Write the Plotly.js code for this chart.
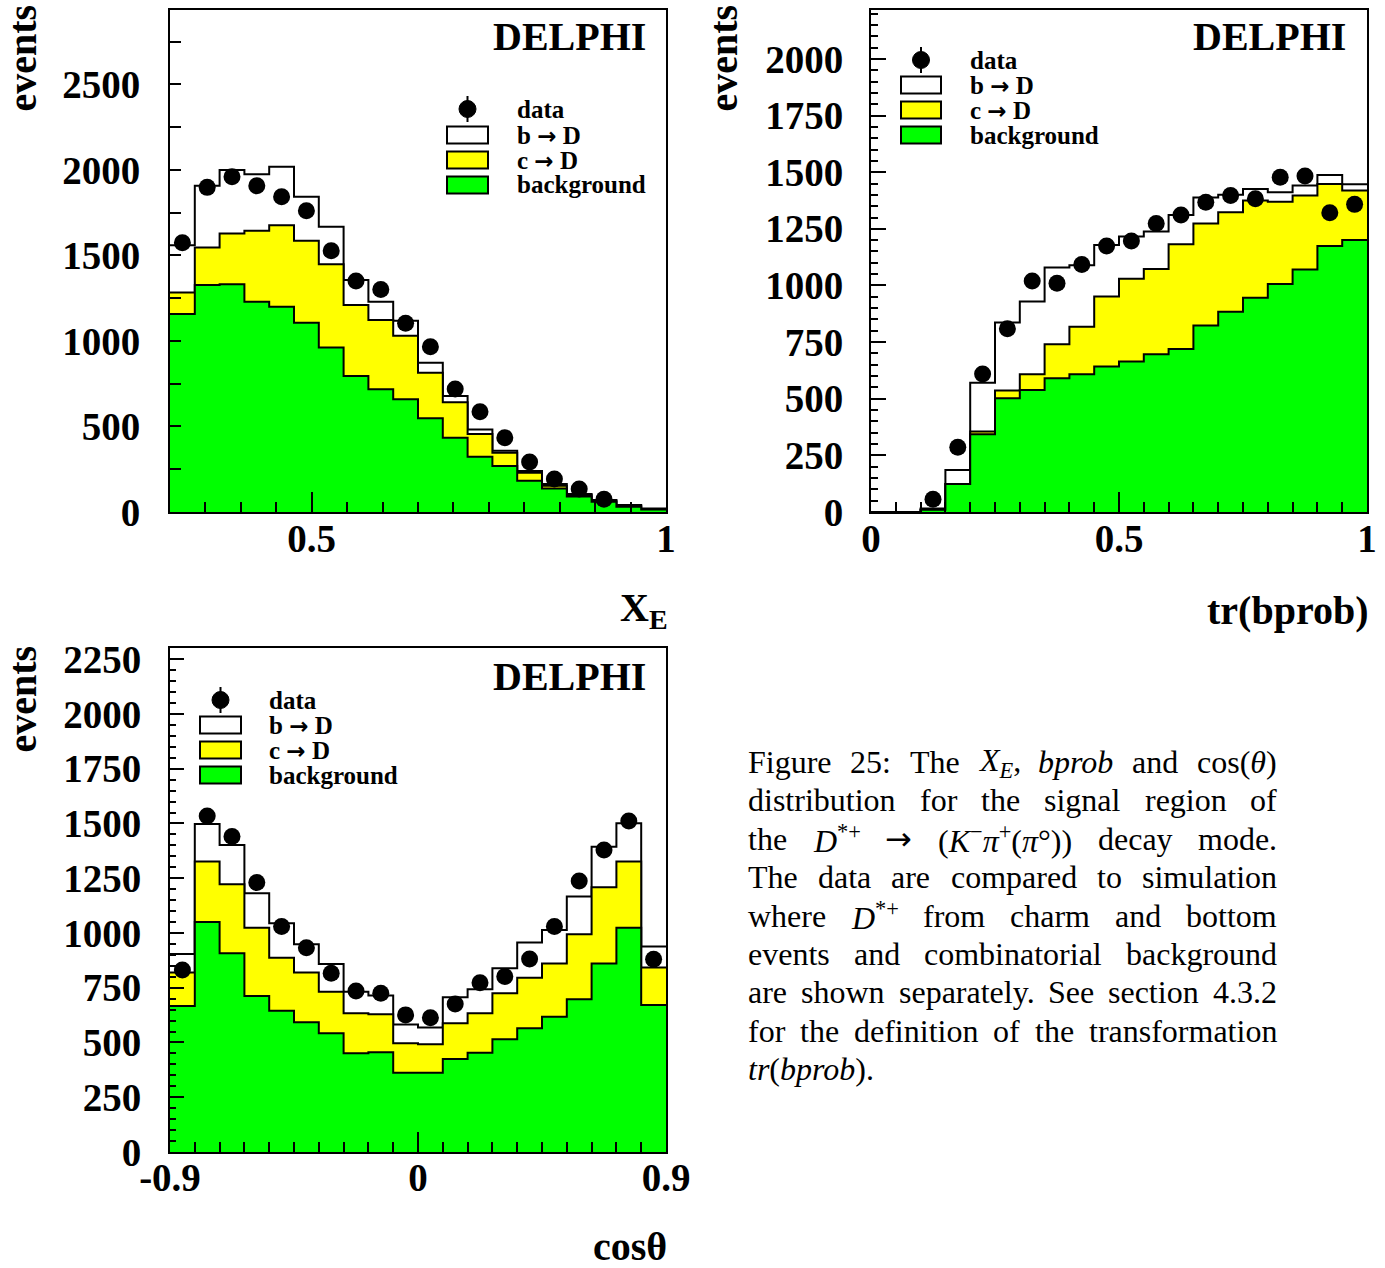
<!DOCTYPE html>
<html><head><meta charset="utf-8">
<script src="https://cdn.plot.ly/plotly-3.0.1.min.js"></script>
<style>html,body{margin:0;padding:0;background:#fff;}#chart{width:1385px;height:1268px;}</style>
</head><body><div id="chart"></div>
<script>
// ---------- DATA ----------
const XE_EDGES = [0.3,0.335,0.37,0.405,0.44,0.475,0.51,0.545,0.58,0.615,0.65,0.685,0.72,0.755,0.79,0.825,0.86,0.895,0.93,0.965,1.0];
const XE_BKG   = [1157,1327,1331,1229,1200,1107,962,795,717,659,548,434,323,269,183,138,90,60,31,15];
const XE_CHARM = [127,220,298,415,477,479,487,415,405,372,266,207,133,78,47,16,9,6,6,3];
const XE_BOTTOM= [276,360,370,331,341,257,219,146,107,87,59,37,27,11,10,10,6,4,4,3];
const XE_DATA  = [1574,1898,1960,1907,1843,1761,1527,1350,1301,1103,966,719,586,434,292,193,134,74,null,null];

const BP_EDGES = [0,0.05,0.1,0.15,0.2,0.25,0.3,0.35,0.4,0.45,0.5,0.55,0.6,0.65,0.7,0.75,0.8,0.85,0.9,0.95,1.0];
const BP_BKG   = [0,0,10,124,343,502,539,590,608,642,664,696,720,823,884,946,1007,1071,1174,1201];
const BP_CHARM = [0,0,0,0,12,34,69,150,210,309,366,377,462,451,439,429,363,326,274,218];
const BP_BOTTOM= [0,0,6,61,216,300,321,339,271,228,186,165,129,114,77,51,41,44,40,28];
const BP_DATA  = [null,null,56,286,609,809,1020,1010,1093,1174,1196,1274,1311,1367,1397,1383,1478,1483,1321,1358];

const CT_EDGES = [-0.9,-0.81,-0.72,-0.63,-0.54,-0.45,-0.36,-0.27,-0.18,-0.09,0,0.09,0.18,0.27,0.36,0.45,0.54,0.63,0.72,0.81,0.9];
const CT_BKG   = [667,1050,907,712,645,592,542,451,455,362,362,425,453,515,565,618,697,861,1024,671];
const CT_CHARM = [152,276,315,312,242,227,190,182,174,135,130,163,180,210,231,243,297,348,302,171];
const CT_BOTTOM= [85,172,180,157,157,129,126,99,85,85,76,118,110,114,160,153,172,185,175,96];
const CT_DATA  = [831,1534,1440,1230,1029,933,816,735,725,626,613,676,773,801,881,1029,1237,1379,1511,880];

const ARROW = '<span style="font-family:\'DejaVu Sans\';font-size:23px">→</span>';
const CAP_ARROW = '<span style="font-family:\'DejaVu Sans\'">→</span>';
const LEGEND_LABELS = ['data', 'b ' + ARROW + ' D', 'c ' + ARROW + ' D', 'background'];
const TRACE_NAMES = ['data', 'b → D', 'c → D', 'background'];
const CT_TICKVALS = [-0.9,0,0.9];
const CT_TICKTEXT = ['-0.9','0','0.9'];

const CAPTION = [
 "Figure 25: The <i>X<sub>E</sub></i>, <i>bprob</i> and cos(<i>θ</i>)",
 "distribution for the signal region of",
 "the <i>D</i><sup>*+</sup> " + CAP_ARROW + " (<i>K</i><sup>−</sup><i>π</i><sup>+</sup>(<i>π</i>°)) decay mode.",
 "The data are compared to simulation",
 "where <i>D</i><sup>*+</sup> from charm and bottom",
 "events and combinatorial background",
 "are shown separately. See section 4.3.2",
 "for the definition of the transformation",
 "<i>tr</i>(<i>bprob</i>)."
];

// ---------- HELPERS ----------
const W = 1385, H = 1268;
const px = x => x / W, py = y => 1 - y / H;
const FONT = '"Liberation Serif", "Times New Roman", serif';
const BLACK = '#000', YEL = '#ffff00', GRN = '#00ff00';

function panel(edges, bg, c, b, data, xa, ya) {
  const n = bg.length;
  const yel = bg.map((v, i) => v + c[i]);
  const tot = yel.map((v, i) => v + b[i]);
  const step = v => v.concat([v[n - 1]]);
  const cen = edges.slice(0, n).map((e, i) => (e + edges[i + 1]) / 2);
  const base = {type: 'scatter', mode: 'lines', x: edges, xaxis: xa, yaxis: ya, fill: 'tozeroy',
                line: {shape: 'hv', color: BLACK, width: 2}, hoverinfo: 'skip'};
  return [
    Object.assign({}, base, {y: step(tot), fillcolor: '#ffffff', name: TRACE_NAMES[1]}),
    Object.assign({}, base, {y: step(yel), fillcolor: YEL, name: TRACE_NAMES[2]}),
    Object.assign({}, base, {y: step(bg), fillcolor: GRN, name: TRACE_NAMES[3]}),
    {type: 'scatter', mode: 'markers', x: cen, y: data, xaxis: xa, yaxis: ya, name: TRACE_NAMES[0],
     marker: {color: BLACK, size: 17}}
  ];
}

const traces = [].concat(
  panel(XE_EDGES, XE_BKG, XE_CHARM, XE_BOTTOM, XE_DATA, 'x', 'y'),
  panel(BP_EDGES, BP_BKG, BP_CHARM, BP_BOTTOM, BP_DATA, 'x2', 'y2'),
  panel(CT_EDGES, CT_BKG, CT_CHARM, CT_BOTTOM, CT_DATA, 'x3', 'y3')
);

const tickFont = {family: FONT, size: 39, color: BLACK, weight: 'bold'};
function ax(extra) {
  return Object.assign({showline: true, linecolor: BLACK, linewidth: 2, mirror: true,
    ticks: 'inside', tickcolor: BLACK, tickwidth: 2, showgrid: false, zeroline: false,
    fixedrange: true, tickfont: tickFont}, extra);
}
function minor(dtick, tick0, len) {
  return {tickmode: 'linear', dtick: dtick, tick0: tick0, ticks: 'inside', ticklen: len,
          tickcolor: BLACK, tickwidth: 2, showgrid: false};
}

const layout = {
  width: W, height: H, margin: {l: 0, r: 0, t: 0, b: 0},
  paper_bgcolor: '#fff', plot_bgcolor: '#fff', showlegend: false,
  xaxis: ax({domain: [px(170), px(666)], anchor: 'y', range: [0.3, 1], tickmode: 'linear', tick0: 0, dtick: 0.5,
             ticklen: 20, ticklabelstandoff: -9, minor: minor(0.05, 0, 10)}),
  yaxis: ax({domain: [py(512), py(10)], anchor: 'x', range: [0, 2935], tickmode: 'linear', tick0: 0, dtick: 500,
             ticklen: 11, ticklabelstandoff: 20, minor: minor(250, 0, 11)}),
  xaxis2: ax({domain: [px(871), px(1367)], anchor: 'y2', range: [0, 1], tickmode: 'linear', tick0: 0, dtick: 0.5,
             ticklen: 20, ticklabelstandoff: -9, minor: minor(0.05, 0, 10)}),
  yaxis2: ax({domain: [py(512), py(10)], anchor: 'x2', range: [0, 2216], tickmode: 'linear', tick0: 0, dtick: 250,
             ticklen: 15, ticklabelstandoff: 18, minor: minor(50, 0, 7)}),
  xaxis3: ax({domain: [px(170), px(666)], anchor: 'y3', range: [-0.9, 0.9], tickmode: 'array', tickvals: CT_TICKVALS,
             ticktext: CT_TICKTEXT, ticklen: 20, ticklabelstandoff: -10, minor: minor(0.09, -0.9, 10)}),
  yaxis3: ax({domain: [py(1152), py(648)], anchor: 'x3', range: [0, 2301], tickmode: 'linear', tick0: 0, dtick: 250,
             ticklen: 14, ticklabelstandoff: 19, minor: minor(50, 0, 6)}),
  shapes: [], annotations: []
};

function txt(x, y, text, opt) {
  layout.annotations.push(Object.assign({xref: 'paper', yref: 'paper', x: px(x), y: py(y), text: text,
    showarrow: false, borderpad: 0, borderwidth: 0, xanchor: 'left', yanchor: 'middle',
    font: {family: FONT, size: 25, color: BLACK, weight: 'bold'}}, opt || {}));
}

// titles, DELPHI labels
const bigBold = {family: FONT, size: 40, color: BLACK, weight: 'bold'};
txt(646, 36, 'DELPHI', {xanchor: 'right', font: bigBold});
txt(1346, 36, 'DELPHI', {xanchor: 'right', font: bigBold});
txt(646, 676, 'DELPHI', {xanchor: 'right', font: bigBold});
txt(668, 610, 'X<sub>E</sub>', {xanchor: 'right', font: bigBold});
txt(1368, 610, 'tr(bprob)', {xanchor: 'right', font: bigBold});
txt(667, 1246, 'cosθ', {xanchor: 'right', font: bigBold});
txt(22, 5, 'events', {xanchor: 'center', yanchor: 'top', textangle: -90, font: bigBold});
txt(723, 5, 'events', {xanchor: 'center', yanchor: 'top', textangle: -90, font: bigBold});
txt(22, 646, 'events', {xanchor: 'center', yanchor: 'top', textangle: -90, font: bigBold});

// legends (drawn manually)
function legend(bx0, bx1, rows, tx) {
  const cx = (bx0 + bx1) / 2;
  layout.shapes.push({type: 'line', xref: 'paper', yref: 'paper', x0: px(cx), x1: px(cx),
    y0: py(rows[0] - 13), y1: py(rows[0] + 13), line: {color: BLACK, width: 2}});
  layout.shapes.push({type: 'circle', xref: 'paper', yref: 'paper', x0: px(cx - 8.5), x1: px(cx + 8.5),
    y0: py(rows[0] + 8.5), y1: py(rows[0] - 8.5), fillcolor: BLACK, line: {color: BLACK, width: 1}});
  const fills = ['#ffffff', YEL, GRN];
  for (let i = 0; i < 3; i++) {
    layout.shapes.push({type: 'rect', xref: 'paper', yref: 'paper', x0: px(bx0), x1: px(bx1),
      y0: py(rows[i + 1] + 8.5), y1: py(rows[i + 1] - 8.5), fillcolor: fills[i], line: {color: BLACK, width: 2}});
  }
  for (let i = 0; i < 4; i++) txt(tx, rows[i], LEGEND_LABELS[i]);
}
legend(447, 488, [109, 135, 160, 185], 517);
legend(901, 941, [60, 85, 110, 135], 970);
legend(200, 241, [700, 725, 750, 775], 269);

// caption, justified using canvas text measurement
const CAP_SIZE = 32, CAP_L = 748, CAP_R = 1277, CAP_Y0 = 762, CAP_DY = 38.4;
const ctx = document.createElement('canvas').getContext('2d');
function measure(html) {
  let w = 0, it = false, sm = false, alt = false;
  for (const p of html.split(/(<\/?[a-z]+[^>]*>)/)) {
    if (!p) continue;
    if (p[0] === '<') {
      const close = p[1] === '/', tag = p.replace(/[<>\/]/g, '').split(' ')[0];
      if (tag === 'i') it = !close;
      if (tag === 'sub' || tag === 'sup') sm = !close;
      if (tag === 'span') alt = !close;
      continue;
    }
    ctx.font = (it ? 'italic ' : '') + (sm ? CAP_SIZE * 0.7 : CAP_SIZE) + 'px ' +
               (alt ? '"DejaVu Sans"' : '"Liberation Serif"');
    w += ctx.measureText(p).width;
  }
  return w;
}
ctx.font = CAP_SIZE + 'px "Liberation Serif"';
const SPACE = ctx.measureText(' ').width;
CAPTION.forEach((line, li) => {
  const words = line.split(/ (?![^<]*>)/);
  const ws = words.map(measure);
  const total = ws.reduce((a, b) => a + b, 0);
  const last = li === CAPTION.length - 1;
  const gap = (last || words.length < 2) ? SPACE : (CAP_R - CAP_L - total) / (words.length - 1);
  let x = CAP_L;
  const y = CAP_Y0 + li * CAP_DY;
  words.forEach((w, i) => {
    txt(x, y, w, {font: {family: FONT, size: CAP_SIZE, color: BLACK}});
    x += ws[i] + gap;
  });
});

Plotly.newPlot('chart', traces, layout, {staticPlot: true});
</script>
</body></html>
